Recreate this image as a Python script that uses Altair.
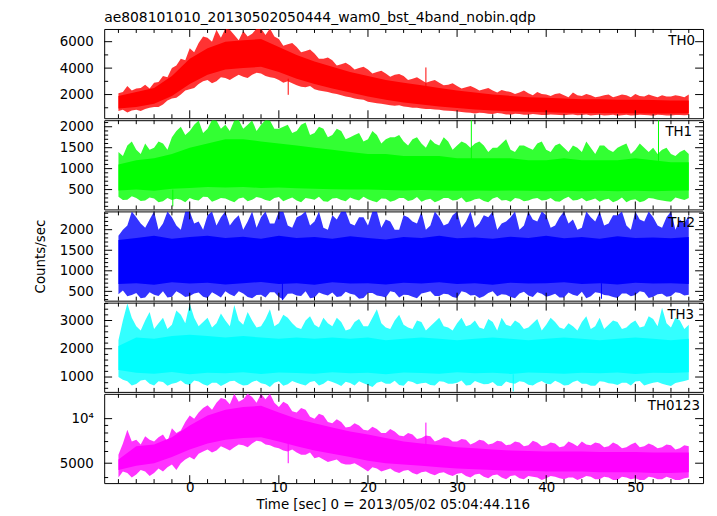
import altair as alt
import pandas as pd

FONT = "DejaVu Sans"
TITLE = "ae808101010_20130502050444_wam0_bst_4band_nobin.qdp"
XTITLE = "Time [sec] 0 = 2013/05/02 05:04:44.116"
YTITLE = "Counts/sec"

# time grids (s)
T = list(range(-8, 57))                    # outer envelope on whole seconds
TH = [k + 0.5 for k in range(-8, 56)]      # outer envelope on half seconds
TC = list(range(-8, 57, 2))                # dense core, 2 s
X_DOMAIN = [-9.6, 57.6]
X_LABELS = [0, 10, 20, 30, 40, 50]
X_MINOR = [-8, -6, -4, -2, 2, 4, 6, 8, 12, 14, 16, 18, 22, 24, 26, 28,
           32, 34, 36, 38, 42, 44, 46, 48, 52, 54, 56]

names = ["TH0", "TH1", "TH2", "TH3", "TH0123"]
colors = ["#ff0000", "#00ff00", "#0000ff", "#00ffff", "#ff00ff"]

# ---------------- TH0 ----------------
th0_hi = [2100, 2650, 2450, 2750, 2900, 3400, 4000, 4700,
          5500, 5900, 6300, 6900, 7000, 6500, 6800, 6600, 7000, 7000,
          6200, 5800, 5600, 5300, 5100, 4700, 4600, 4300, 4200, 4000,
          3900, 3700, 3600, 3500, 3400, 3200, 3100, 3000, 2900, 2750,
          2650, 2550, 2500, 2400, 2300, 2350, 2200, 2150, 2100, 2200,
          2000, 2050, 1950, 2150, 1900, 1950, 1850, 2000, 1900, 1950,
          2050, 1850, 1900, 1950, 1850, 1900, 2000]
th0_lo = [750, 650, 850, 900, 1050, 1250, 1700, 2000,
          2400, 2800, 3100, 3000, 3250, 3300, 3350, 3500, 3600, 3300,
          3100, 3000, 2700, 2550, 2400, 2250, 2100, 1950, 1800, 1650,
          1450, 1350, 1250, 1150, 1100, 1000, 950, 900, 850, 780,
          720, 650, 560, 600, 520, 560, 480, 520, 470, 500,
          450, 480, 430, 500, 450, 420, 480, 440, 400, 470,
          430, 460, 400, 450, 420, 460, 450]
th0_hi_h = [2200, 2300, 2500, 2450, 2950, 3300, 4200, 4600,
            5200, 6400, 6000, 6300, 6900, 6100, 6400, 7000,
            6500, 6400, 5700, 5900, 5200, 5400, 4700, 4800,
            4200, 4400, 3900, 4100, 3600, 3800, 3350, 3550,
            3100, 3300, 2900, 3100, 2700, 2850, 2450, 2650,
            2300, 2500, 2150, 2250, 2050, 2300, 1950, 2050,
            1900, 2100, 1800, 1950, 2050, 1800, 1950, 1800,
            2000, 1800, 1900, 2000, 1800, 1850, 1950, 1800]
th0_lo_h = [850, 800, 750, 1000, 1050, 1550, 1750, 2300,
            2500, 3000, 2850, 3300, 3100, 3500, 3250, 3650,
            3400, 3250, 2900, 2850, 2600, 2650, 2300, 2200,
            2050, 1850, 1700, 1600, 1400, 1300, 1200, 1200,
            1050, 1000, 900, 870, 800, 760, 680, 620,
            620, 550, 600, 500, 540, 480, 530, 460,
            500, 450, 480, 440, 490, 450, 420, 480,
            440, 420, 470, 430, 470, 410, 450, 430]
th0_core_lo = [950, 1050, 1300, 1900, 2800, 3500, 3900, 4000, 4100, 3700,
               3200, 2800, 2450, 2150, 1850, 1600, 1400, 1250, 1100, 980,
               870, 800, 740, 700, 660, 630, 610, 600, 590, 580,
               570, 570, 590]
th0_core_hi = [1900, 2200, 2500, 3400, 4700, 5500, 6000, 6100, 6200, 5600,
               5000, 4500, 4100, 3700, 3400, 3100, 2900, 2700, 2500, 2300,
               2150, 2000, 1900, 1800, 1750, 1700, 1650, 1650, 1600, 1600,
               1580, 1550, 1550]
th0_spike_t = [11.05, 26.5]
th0_spike_lo = [1980, 2600]
th0_spike_hi = [3200, 4050]

# ---------------- TH1 ----------------
th1_hi = [1400, 1550, 1450, 1600, 1500, 1600, 1750, 2000,
          1900, 2150, 1950, 2150, 2050, 2150, 1950, 2150, 2050, 2150,
          1950, 2050, 1900, 2100, 1850, 1950, 1800, 1900, 1750, 1850,
          1700, 1800, 1700, 1750, 1650, 1700, 1600, 1700, 1550, 1650,
          1550, 1600, 1600, 1550, 1500, 1600, 1450, 1550, 1500, 1600,
          1450, 1550, 1500, 1550, 1400, 1500, 1550, 1450, 1500, 1600,
          1450, 1500, 1500, 1450, 1350, 1400, 1350]
th1_lo = [330, 260, 300, 240, 290, 220, 250, 260,
          300, 240, 320, 250, 290, 200, 310, 260, 300, 230,
          320, 270, 240, 300, 260, 220, 290, 250, 310, 240,
          270, 200, 280, 240, 300, 250, 210, 280, 240, 300,
          250, 200, 270, 230, 290, 240, 210, 280, 240, 300,
          250, 220, 280, 240, 300, 250, 210, 280, 240, 200,
          270, 230, 290, 240, 210, 280, 300]
th1_hi_h = [1300, 1650, 1350, 1450, 1650, 1450, 1900, 1800,
            2050, 1850, 2160, 1950, 1900, 2160, 2050, 1900,
            2160, 1950, 2000, 1850, 2050, 1800, 2000, 1750,
            1950, 1700, 1800, 1650, 1900, 1600, 1750, 1800,
            1550, 1750, 1500, 1600, 1750, 1450, 1650, 1500,
            1650, 1400, 1500, 1700, 1400, 1550, 1450, 1650,
            1400, 1600, 1400, 1500, 1650, 1350, 1550, 1400,
            1550, 1350, 1600, 1400, 1350, 1500, 1300, 1450]
th1_lo_h = [250, 340, 230, 310, 200, 300, 280, 200,
            260, 330, 210, 300, 240, 290, 220, 320,
            250, 300, 220, 310, 200, 280, 330, 210,
            300, 220, 270, 330, 230, 290, 210, 300,
            230, 320, 260, 200, 300, 240, 310, 220,
            290, 200, 320, 250, 300, 220, 280, 240,
            300, 210, 330, 250, 220, 290, 260, 200,
            310, 250, 200, 300, 260, 220, 310, 250]
th1_core_lo = [480, 500, 470, 520, 540, 560, 550, 560, 540, 550,
               530, 520, 510, 500, 500, 490, 480, 490, 480, 470,
               480, 470, 480, 470, 460, 470, 460, 470, 460, 470,
               460, 470, 480]
th1_core_hi = [1100, 1200, 1250, 1350, 1500, 1600, 1700, 1700, 1650, 1600,
               1550, 1500, 1450, 1400, 1350, 1350, 1300, 1300, 1300, 1250,
               1250, 1250, 1250, 1200, 1200, 1250, 1200, 1200, 1200, 1250,
               1200, 1150, 1150]
th1_spike_t = [-1.9, 31.6, 52.6]
th1_spike_lo = [100, 1100, 1100]
th1_spike_hi = [500, 2160, 2160]

# ---------------- TH2 ----------------
th2_hi = [1850, 2100, 2300, 2050, 2440, 2150, 2300, 2000,
          2440, 2200, 2350, 2100, 2440, 2250, 2000, 2440, 2300, 2150,
          2440, 2100, 2300, 2440, 2200, 2050, 2350, 2440, 2150, 2300,
          2100, 2440, 2250, 2000, 2350, 2200, 2440, 2100, 2300, 2150,
          2440, 2200, 2050, 2350, 2440, 2150, 2300, 2000, 2440, 2200,
          2350, 2100, 2440, 2250, 2050, 2300, 2440, 2150, 2350, 2100,
          2440, 2200, 2300, 2050, 2440, 2250, 2350]
th2_lo = [430, 380, 460, 350, 420, 500, 370, 440,
          390, 470, 340, 420, 500, 380, 450, 330, 420, 480,
          360, 440, 400, 500, 350, 430, 470, 380, 440, 320,
          460, 400, 350, 480, 420, 370, 450, 500, 390, 430,
          340, 470, 410, 380, 500, 430, 360, 450, 400, 480,
          370, 440, 350, 420, 490, 380, 460, 400, 340, 450,
          410, 480, 370, 440, 390, 460, 420]
th2_hi_h = [2000, 2440, 2150, 2250, 2000, 2440, 2100, 2440,
            2150, 2000, 2440, 2300, 2100, 2350, 2200, 2050,
            2440, 2150, 2440, 2050, 2350, 2100, 2440, 2000,
            2250, 2440, 2100, 2300, 2440, 2050, 2200, 2000,
            2300, 2150, 2000, 2440, 2100, 2350, 2050, 2440,
            2150, 2300, 2000, 2200, 2440, 2100, 2250, 2440,
            2050, 2300, 2150, 2000, 2440, 2200, 2100, 2350,
            2440, 2000, 2250, 2440, 2100, 2300, 2000, 2150]
th2_lo_h = [520, 410, 330, 480, 390, 350, 500, 360,
            450, 370, 480, 350, 430, 500, 360, 410,
            350, 480, 300, 450, 390, 330, 470, 400,
            360, 490, 420, 340, 460, 380, 500, 350,
            410, 330, 470, 390, 440, 360, 500, 400,
            340, 460, 380, 420, 330, 490, 360, 440,
            400, 350, 470, 390, 330, 480, 410, 360,
            450, 380, 500, 340, 430, 370, 480, 400]
th2_core_lo = [680, 700, 660, 720, 690, 710, 670, 700, 730, 680,
               700, 660, 720, 690, 700, 670, 710, 690, 720, 680,
               700, 660, 710, 690, 700, 720, 680, 700, 670, 710,
               690, 700, 680]
th2_core_hi = [1750, 1800, 1850, 1780, 1820, 1850, 1800, 1830, 1780, 1850,
               1800, 1820, 1780, 1840, 1800, 1760, 1820, 1800, 1850, 1790,
               1810, 1780, 1830, 1800, 1850, 1790, 1820, 1780, 1840, 1800,
               1810, 1790, 1820]
th2_spike_t = [10.4, 46.2]
th2_spike_lo = [285, 320]
th2_spike_hi = [700, 700]

# ---------------- TH3 ----------------
th3_hi = [2300, 3600, 2800, 3000, 2700, 3100, 2850, 3200,
          3600, 2800, 3100, 2900, 3000, 3550, 2850, 3000, 2800, 3400,
          2900, 3100, 2750, 3000, 2850, 3100, 2800, 2950, 2700, 3050,
          2800, 3400, 2750, 3000, 2850, 2700, 2950, 2800, 3100, 2750,
          2900, 2800, 3000, 2700, 2950, 3100, 2800, 2900, 2750, 3050,
          2850, 2950, 2700, 2800, 2950, 2700, 3100, 2850, 2950, 2750,
          3000, 2800, 3050, 3450, 2750, 3000, 2850]
th3_lo = [1000, 850, 750, 900, 700, 820, 760, 880,
          720, 840, 690, 800, 760, 870, 700, 820, 780, 650,
          850, 740, 800, 700, 860, 760, 820, 680, 790, 850,
          720, 800, 760, 870, 690, 820, 780, 720, 850, 760,
          800, 700, 860, 740, 820, 680, 790, 850, 730, 800,
          760, 870, 700, 820, 760, 690, 850, 780, 720, 800,
          840, 700, 800, 760, 680, 820, 900]
th3_hi_h = [3000, 3100, 2650, 3300, 2900, 2700, 3350, 2900,
            3100, 2950, 2750, 3250, 2800, 3000, 3300, 2750,
            3050, 2800, 3200, 2900, 2700, 3150, 2750, 2900,
            3100, 2650, 2950, 2800, 3100, 2900, 2700, 3200,
            2750, 3000, 2650, 2950, 2800, 2650, 3100, 2850,
            2750, 3050, 2650, 2850, 3000, 2700, 2900, 2650,
            3100, 2750, 2900, 2650, 3150, 2800, 2700, 3000,
            2700, 2900, 2750, 3150, 2800, 2900, 3100, 2700]
th3_lo_h = [900, 700, 880, 760, 850, 690, 800, 750,
            880, 740, 800, 680, 850, 770, 720, 880,
            740, 800, 690, 860, 740, 820, 700, 880,
            760, 830, 700, 780, 650, 840, 760, 720,
            860, 740, 800, 700, 830, 760, 880, 720,
            800, 750, 690, 840, 760, 820, 700, 860,
            740, 800, 720, 880, 760, 690, 830, 760,
            800, 700, 860, 750, 820, 720, 790, 860]
th3_core_lo = [1250, 1150, 1120, 1180, 1100, 1150, 1130, 1170, 1110, 1160,
               1140, 1120, 1170, 1130, 1150, 1100, 1160, 1140, 1120, 1170,
               1130, 1150, 1110, 1160, 1140, 1120, 1150, 1130, 1160, 1110,
               1150, 1140, 1170]
th3_core_hi = [2100, 2400, 2350, 2450, 2500, 2450, 2400, 2450, 2400, 2350,
               2400, 2350, 2400, 2350, 2400, 2300, 2350, 2400, 2350, 2300,
               2350, 2400, 2350, 2300, 2350, 2400, 2350, 2300, 2350, 2400,
               2350, 2300, 2350]
th3_spike_t = [36.3]
th3_spike_lo = [490]
th3_spike_hi = [1100]

# ---------------- TH0123 ----------------
th4_hi = [5700, 8400, 7200, 7600, 7000, 7800, 8600, 8300,
          10500, 11000, 12300, 12800, 13500, 14700, 13500, 14000, 14700, 14700,
          12000, 12500, 11000, 11500, 10000, 10500, 9300, 9500, 8800, 9000,
          8300, 8500, 8000, 8200, 7600, 7800, 7400, 7600, 7200, 7400,
          7000, 7200, 6900, 7100, 6800, 7000, 6700, 6900, 6600, 6900,
          6600, 6800, 6500, 6800, 7000, 6600, 6800, 6500, 6700, 6400,
          6900, 6500, 6600, 6400, 6600, 6300, 6500]
th4_lo = [4000, 4300, 4200, 4400, 4300, 4400, 4900, 5000,
          5500, 5800, 6200, 6100, 6300, 6400, 6600, 6800, 7000, 6600,
          6300, 6000, 5900, 5700, 5400, 5300, 5200, 5000, 4900, 4800,
          4400, 4600, 4500, 4400, 4450, 4300, 4350, 4250, 4300, 4200,
          4250, 4100, 4200, 4050, 4150, 4000, 4100, 3950, 4100, 4000,
          3950, 4050, 3900, 4000, 3950, 4050, 3900, 4000, 3850, 4000,
          3950, 3850, 4000, 3900, 3950, 3850, 4000]
th4_hi_h = [6800, 7000, 6700, 7200, 7500, 7000, 8000, 9500,
            10000, 11800, 11500, 13800, 12500, 13000, 14700, 12800,
            13500, 12800, 13000, 11200, 11800, 10300, 10800, 9500,
            9900, 8700, 9300, 8400, 8800, 8000, 8500, 7700,
            8000, 7300, 7700, 7000, 7500, 7000, 7300, 6700,
            7200, 6700, 7100, 6600, 7000, 6500, 7100, 6500,
            6900, 6400, 7000, 6500, 6700, 6900, 6400, 6900,
            6300, 6700, 6400, 6800, 6300, 6700, 6200, 6600]
th4_lo_h = [4400, 4000, 4500, 4100, 4600, 4700, 4500, 5300,
            5300, 6000, 5900, 6500, 6100, 6700, 6400, 7100,
            6700, 6400, 6100, 6200, 5700, 5900, 5500, 5100,
            5300, 4900, 5000, 4600, 4700, 4400, 4600, 4300,
            4500, 4200, 4400, 4150, 4350, 4100, 4300, 4000,
            4250, 3950, 4200, 3900, 4150, 3900, 4050, 3850,
            4100, 3950, 4000, 3850, 4100, 3900, 4050, 3850,
            4050, 3900, 3850, 4050, 3900, 4050, 3850, 3950]
th4_core_lo = [4500, 4800, 5000, 5500, 6200, 6800, 7200, 7400, 7500, 7000,
               6500, 6100, 5800, 5500, 5200, 5000, 4900, 4800, 4700, 4600,
               4550, 4500, 4450, 4450, 4400, 4400, 4400, 4350, 4350, 4350,
               4300, 4300, 4350]
th4_core_hi = [5300, 6500, 6700, 7500, 9000, 10500, 11500, 12000, 12200, 11000,
               10000, 9300, 8700, 8200, 7800, 7400, 7000, 6800, 6600, 6400,
               6300, 6200, 6100, 6050, 6000, 6000, 6000, 5950, 5950, 5950,
               5900, 5900, 5900]
th4_spike_t = [11.05, 26.5]
th4_spike_lo = [5000, 6500]
th4_spike_hi = [7000, 9400]

# axis set-up per panel
y_domains = [[210, 6960], [26, 2156], [274, 2444], [474, 3632], [3670, 14700]]
y_types = ["linear", "linear", "linear", "linear", "log"]
y_major = [[2000, 4000, 6000], [500, 1000, 1500, 2000], [500, 1000, 1500, 2000],
           [1000, 2000, 3000], [5000, 10000]]
y_minor = [[1000, 3000, 5000],
           [v for v in range(100, 2200, 100) if v % 500],
           [v for v in range(300, 2500, 100) if v % 500],
           [600, 800, 1200, 1400, 1600, 1800, 2200, 2400, 2600, 2800, 3200, 3400, 3600],
           [4000, 6000, 7000, 8000, 9000]]

series = [
    (th0_hi, th0_lo, th0_hi_h, th0_lo_h, th0_core_hi, th0_core_lo, th0_spike_t, th0_spike_lo, th0_spike_hi),
    (th1_hi, th1_lo, th1_hi_h, th1_lo_h, th1_core_hi, th1_core_lo, th1_spike_t, th1_spike_lo, th1_spike_hi),
    (th2_hi, th2_lo, th2_hi_h, th2_lo_h, th2_core_hi, th2_core_lo, th2_spike_t, th2_spike_lo, th2_spike_hi),
    (th3_hi, th3_lo, th3_hi_h, th3_lo_h, th3_core_hi, th3_core_lo, th3_spike_t, th3_spike_lo, th3_spike_hi),
    (th4_hi, th4_lo, th4_hi_h, th4_lo_h, th4_core_hi, th4_core_lo, th4_spike_t, th4_spike_lo, th4_spike_hi),
]

W, H = 604, 90
FS = 13.5
MAJ, MIN = 8, 4
label_right = [W - 8, W - 11, W - 8, W - 9, W - 3]


def panel(i):
    hi, lo, hih, loh, chi, clo, st, slo, shi = series[i]
    c = colors[i]
    last = i == len(names) - 1
    xs = alt.Scale(domain=X_DOMAIN, nice=False, zero=False)
    ys = alt.Scale(type=y_types[i], domain=y_domains[i], nice=False, zero=False)

    if last:
        xaxis = alt.Axis(values=X_LABELS, ticks=False, domain=False, grid=False,
                         labelFont=FONT, labelFontSize=FS, labelColor="black",
                         labelPadding=-3, labelFlush=False, format="d",
                         title=XTITLE, titleFont=FONT, titleFontSize=FS,
                         titleFontWeight="normal", titleColor="black",
                         titlePadding=4, titleX=291)
    else:
        xaxis = None
    label_expr = "datum.value == 10000 ? '10⁴' : datum.label" if last else "datum.label"
    yaxis = alt.Axis(values=y_major[i], ticks=False, domain=False, grid=False,
                     labelFont=FONT, labelFontSize=FS, labelColor="black",
                     labelPadding=11, labelFlush=False, format="d",
                     labelExpr=label_expr,
                     title=YTITLE, titleFont=FONT, titleFontSize=FS,
                     titleFontWeight="normal",
                     titleColor="black" if i == 2 else "transparent",
                     titlePadding=12, titleY=45)

    X = lambda f: alt.X(f, scale=xs, axis=xaxis)
    Y = lambda f: alt.Y(f, scale=ys, axis=yaxis)

    # whole-second and half-second envelope samples, merged in time order
    tt, ll, hh = [], [], []
    for k in range(len(T)):
        tt.append(float(T[k])); ll.append(lo[k]); hh.append(hi[k])
        if k < len(TH):
            tt.append(TH[k]); ll.append(loh[k]); hh.append(hih[k])
    env = pd.DataFrame({"t": tt, "lo": ll, "hi": hh})

    outer = alt.Chart(env).mark_area(
        color=c, opacity=0.8, clip=True).encode(
        x=X("t:Q"), y=Y("lo:Q"), y2="hi:Q")
    core = alt.Chart(pd.DataFrame({"t": TC, "lo": clo, "hi": chi})).mark_area(
        color=c, opacity=1, clip=True).encode(x=X("t:Q"), y=Y("lo:Q"), y2="hi:Q")
    spikes = alt.Chart(pd.DataFrame({"t": st, "lo": slo, "hi": shi})).mark_rule(
        color=c, strokeWidth=1, clip=True).encode(x=X("t:Q"), y=Y("lo:Q"), y2="hi:Q")
    label = alt.Chart(pd.DataFrame({"lab": [names[i]]})).mark_text(
        align="right", baseline="alphabetic", font=FONT, fontSize=FS,
        color="black").encode(x=alt.value(label_right[i]), y=alt.value(16), text="lab:N")

    layers = [outer, core, spikes, label]

    def xt(vals, y0, y1):
        return alt.Chart(pd.DataFrame({"t": vals})).mark_rule(
            color="black", strokeWidth=1).encode(
            x=X("t:Q"), y=alt.value(y0), y2=alt.value(y1))

    def yt(vals, x0, x1):
        return alt.Chart(pd.DataFrame({"lo": vals})).mark_rule(
            color="black", strokeWidth=1).encode(
            y=Y("lo:Q"), x=alt.value(x0), x2=alt.value(x1))

    layers += [xt(X_LABELS, 0, MAJ), xt(X_LABELS, H, H - MAJ),
               xt(X_MINOR, 0, MIN), xt(X_MINOR, H, H - MIN),
               yt(y_major[i], 0, MAJ), yt(y_major[i], W, W - MAJ),
               yt(y_minor[i], 0, MIN), yt(y_minor[i], W, W - MIN)]

    ch = alt.layer(*layers).properties(width=W, height=H)
    if i == 0:
        ch = ch.properties(title=alt.TitleParams(
            TITLE, anchor="start", frame="group", font=FONT, fontSize=14,
            fontWeight="normal", color="black", offset=4))
    return ch


chart = alt.vconcat(*[panel(i) for i in range(5)], spacing=0).configure_view(
    stroke="black", strokeWidth=1).properties(
    padding={"left": 25, "top": 0, "right": 5, "bottom": 0})

chart.save("out.html", embed_options={"renderer": "svg", "actions": False})
